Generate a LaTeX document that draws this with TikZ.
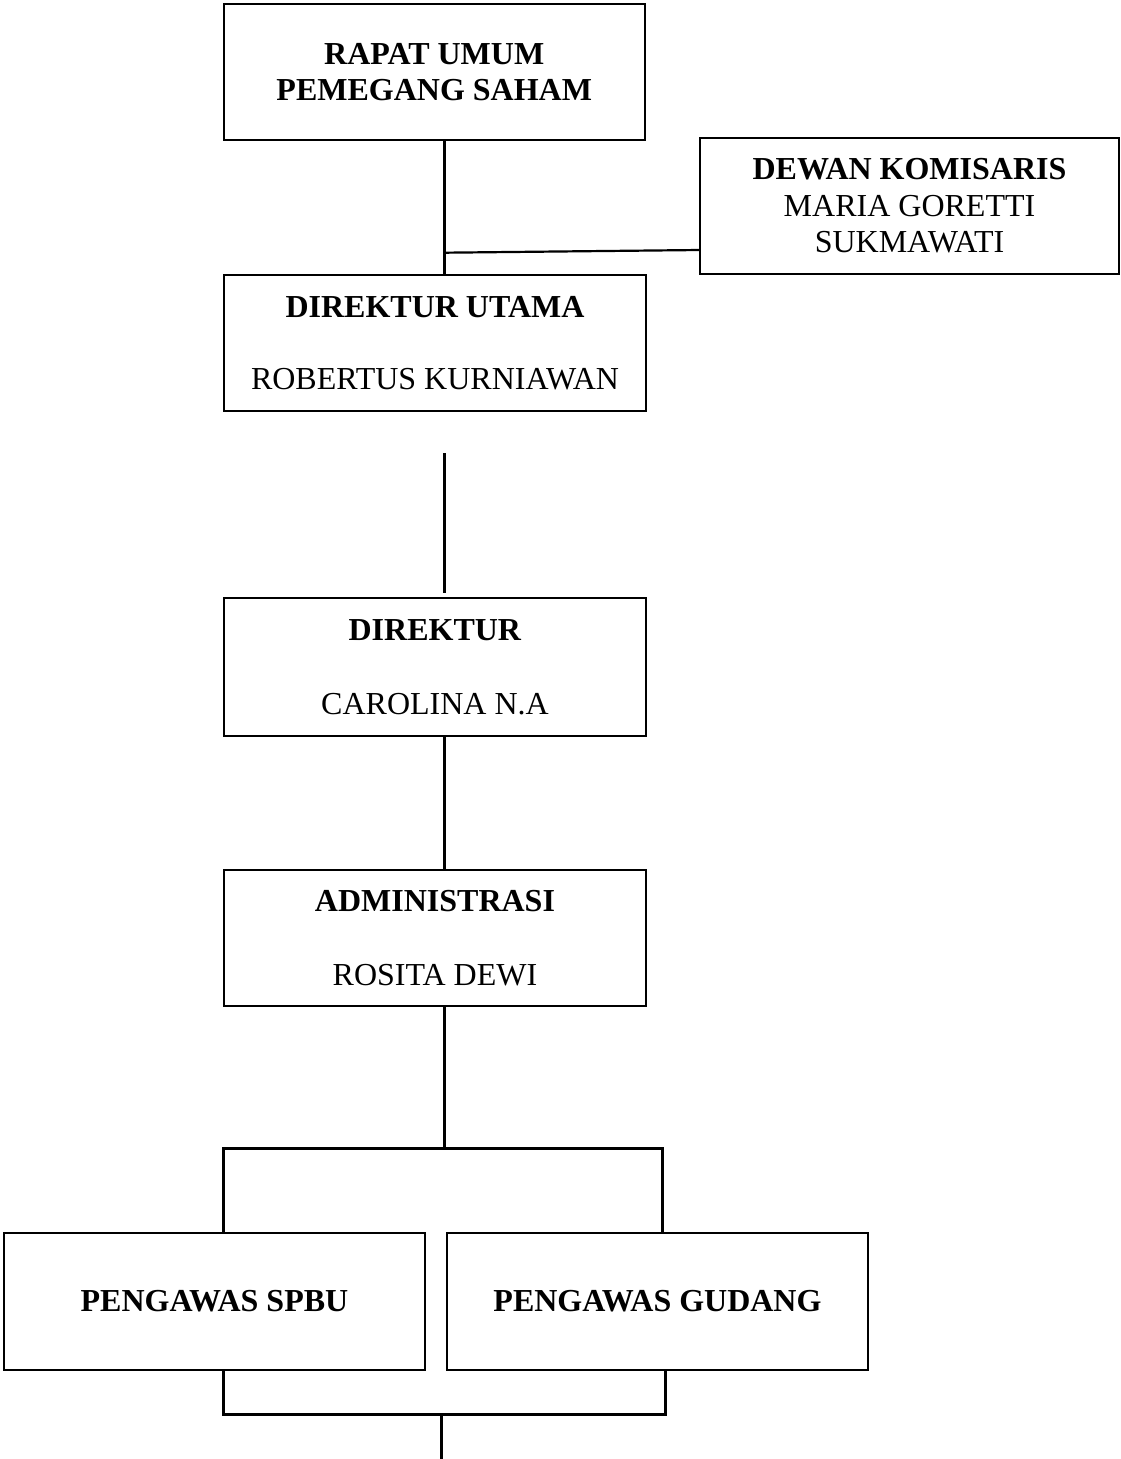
\documentclass[tikz,border=0pt]{standalone}
\usepackage{fontspec}
\setmainfont{Liberation Serif}
\begin{document}
\begin{tikzpicture}[x=1pt,y=-1pt,
  box/.style={draw,line width=2pt,rectangle,inner sep=0pt,outer sep=0pt,align=center,
    font=\fontsize{32}{36.6}\selectfont},
  conn/.style={line width=3pt}]
\useasboundingbox (0,0) rectangle (1121,1459);
\node[box,minimum width=421.5pt,minimum height=136pt] (rups) at (434.25,72)
  {\textbf{RAPAT UMUM}\\\textbf{PEMEGANG SAHAM}};
\node[box,minimum width=419pt,minimum height=136pt] (dk) at (909.5,206)
  {\textbf{DEWAN KOMISARIS}\\MARIA GORETTI\\SUKMAWATI};
\node[box,minimum width=422pt,minimum height=136pt] (du) at (435,343)
  {\textbf{DIREKTUR UTAMA}\\[36pt]ROBERTUS KURNIAWAN};
\node[box,minimum width=422pt,minimum height=138pt] (dir) at (435,667)
  {\textbf{DIREKTUR}\\[37pt]CAROLINA N.A};
\node[box,minimum width=422pt,minimum height=136pt] (adm) at (435,938)
  {\textbf{ADMINISTRASI}\\[37pt]ROSITA DEWI};
\node[box,minimum width=421pt,minimum height=137pt] (spbu) at (214.5,1301.5)
  {\textbf{PENGAWAS SPBU}};
\node[box,minimum width=421pt,minimum height=137pt] (gud) at (657.5,1301.5)
  {\textbf{PENGAWAS GUDANG}};
% junctions
\coordinate (j1) at (444,252.7);
\coordinate (jt) at (444,1148.7);
\coordinate (bl) at (223,1148.7);
\coordinate (br) at (662.7,1148.7);
\coordinate (ql) at (223,1414);
\coordinate (qr) at (665.7,1414);
\coordinate (qm) at (441,1414);
\coordinate (qend) at (441,1459);
% connectors
\draw[conn] (rups.south -| j1) -- (du.north -| j1);
\draw[line width=2.2pt] (j1) -- ([yshift=24pt]dk.south west);
\draw[conn] ([yshift=-42pt]du.south -| j1) -- ([yshift=5pt]dir.north -| j1);
\draw[conn] (dir.south -| j1) -- (adm.north -| j1);
\draw[conn] (adm.south -| j1) -- (jt);
\draw[conn] (bl |- spbu.north) -- (bl) -- (br) -- (br |- gud.north);
\draw[conn] (ql |- spbu.south) -- (ql) -- (qr) -- (qr |- gud.south);
\draw[conn] (qm) -- (qend);
\end{tikzpicture}
\end{document}
